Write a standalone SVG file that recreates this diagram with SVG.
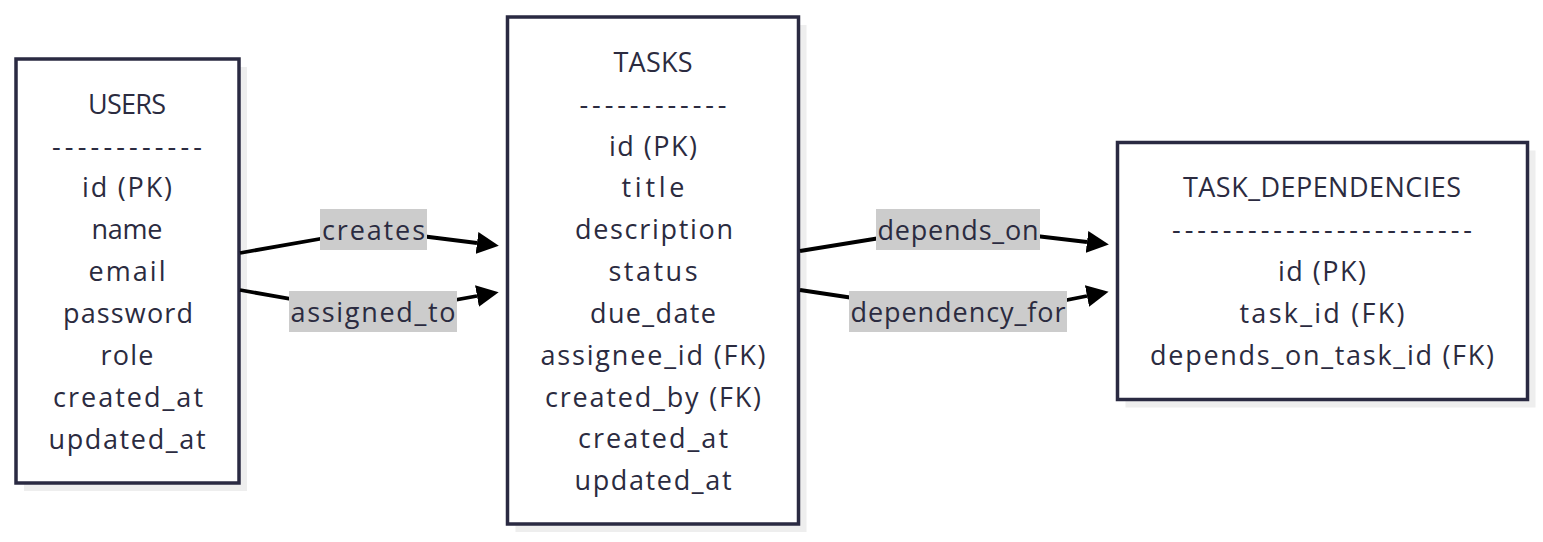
<svg xmlns="http://www.w3.org/2000/svg" width="1543" height="542" viewBox="0 0 1543 542">
<style>
.shadow{fill:#eeeeee;stroke:none}
.box{fill:#ffffff;stroke:#2a2a42;stroke-width:3.5}
text{font-family:"Open Sans","Noto Sans","Liberation Sans",sans-serif;font-size:27px;fill:#2b2b40;text-anchor:middle;dominant-baseline:central}
.edge{fill:none;stroke:#000000;stroke-width:3.8}
.lbl{fill:#cccccc;stroke:none}
</style>
<defs>
<marker id="arrow" markerUnits="userSpaceOnUse" markerWidth="22" markerHeight="22" refX="0" refY="11" orient="auto" viewBox="0 0 22 22">
<path d="M0,0 L22,11 L0,22 z" fill="#000000"/>
</marker>
</defs>
<rect x="0" y="0" width="1543" height="542" fill="#ffffff"/>
<g id="users">
<rect class="shadow" x="24" y="67" width="223" height="424"/>
<rect class="box" x="16" y="59" width="223" height="424"/>
<text x="127" y="103" textLength="78" lengthAdjust="spacing">USERS</text>
<text x="127" y="145" textLength="150" lengthAdjust="spacing">------------</text>
<text x="127" y="186" textLength="90" lengthAdjust="spacing">id (PK)</text>
<text x="127" y="228" textLength="71" lengthAdjust="spacing">name</text>
<text x="127" y="270" textLength="77" lengthAdjust="spacing">email</text>
<text x="128" y="312" textLength="130" lengthAdjust="spacing">password</text>
<text x="127" y="354" textLength="53" lengthAdjust="spacing">role</text>
<text x="128" y="396" textLength="150" lengthAdjust="spacing">created_at</text>
<text x="127" y="438" textLength="157" lengthAdjust="spacing">updated_at</text>
</g>
<g id="tasks">
<rect class="shadow" x="515.5" y="25" width="291" height="507"/>
<rect class="box" x="507.5" y="17" width="291" height="507"/>
<text x="653" y="61" textLength="79" lengthAdjust="spacing">TASKS</text>
<text x="653" y="103" textLength="147" lengthAdjust="spacing">------------</text>
<text x="653" y="145" textLength="88" lengthAdjust="spacing">id (PK)</text>
<text x="653" y="186" textLength="63" lengthAdjust="spacing">title</text>
<text x="654" y="228" textLength="158" lengthAdjust="spacing">description</text>
<text x="653" y="270" textLength="89" lengthAdjust="spacing">status</text>
<text x="653" y="312" textLength="126" lengthAdjust="spacing">due_date</text>
<text x="653" y="354" textLength="225" lengthAdjust="spacing">assignee_id (FK)</text>
<text x="653" y="396" textLength="216" lengthAdjust="spacing">created_by (FK)</text>
<text x="653" y="437" textLength="150" lengthAdjust="spacing">created_at</text>
<text x="653" y="479" textLength="157" lengthAdjust="spacing">updated_at</text>
</g>
<g id="task_dependencies">
<rect class="shadow" x="1125.5" y="150.5" width="410" height="257"/>
<rect class="box" x="1117.5" y="142.5" width="410" height="257"/>
<text x="1322" y="186" textLength="278" lengthAdjust="spacing">TASK_DEPENDENCIES</text>
<text x="1322" y="228" textLength="300" lengthAdjust="spacing">------------------------</text>
<text x="1322" y="270" textLength="88" lengthAdjust="spacing">id (PK)</text>
<text x="1322" y="312" textLength="165" lengthAdjust="spacing">task_id (FK)</text>
<text x="1322" y="354" textLength="344" lengthAdjust="spacing">depends_on_task_id (FK)</text>
</g>
<g id="connectors">
<path class="edge" marker-end="url(#arrow)" d="M240,253 L325,238 Q373,229 421,236 L477,243"/>
<path class="edge" marker-end="url(#arrow)" d="M240,290 L325,305 Q373,313 421,306 L477,296"/>
<path class="edge" marker-end="url(#arrow)" d="M800,251 L880,238 Q958,228 1036,236 L1087,242"/>
<path class="edge" marker-end="url(#arrow)" d="M800,290 L880,302 Q958,314 1036,306 L1087,296"/>
<rect class="lbl" x="320" y="209" width="107" height="41"/>
<text x="373.5" y="229" textLength="103" lengthAdjust="spacing">creates</text>
<rect class="lbl" x="289" y="291" width="168" height="41"/>
<text x="373" y="311" textLength="165" lengthAdjust="spacing">assigned_to</text>
<rect class="lbl" x="876" y="209" width="164" height="41"/>
<text x="958" y="229" textLength="161" lengthAdjust="spacing">depends_on</text>
<rect class="lbl" x="849" y="291" width="218" height="41"/>
<text x="958" y="311" textLength="215" lengthAdjust="spacing">dependency_for</text>
</g>
</svg>
